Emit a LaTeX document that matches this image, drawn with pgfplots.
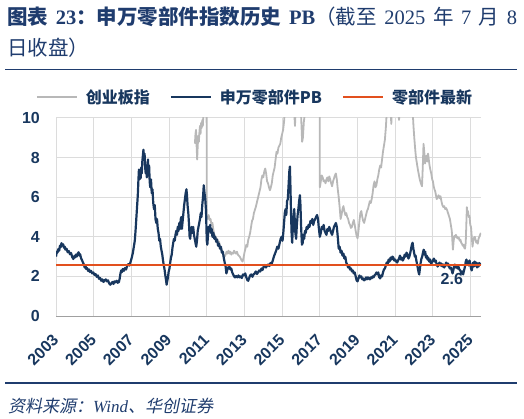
\documentclass[border=0pt]{standalone}
\usepackage{fontspec}
\usepackage{pgfplots}
\usepackage{pgfplotstable}
\pgfplotsset{compat=1.18}
\setmainfont{Liberation Sans}
\newfontfamily\cjk{Noto Sans CJK SC}
\newfontfamily\cjkit[FakeSlant=0.2]{Noto Sans CJK SC}
\newfontfamily\serif{Liberation Serif}
\definecolor{navy}{RGB}{24,55,94}
\definecolor{titleblue}{RGB}{31,60,110}
\definecolor{cygray}{RGB}{184,184,184}
\definecolor{latestred}{RGB}{226,80,30}
\definecolor{gridgray}{RGB}{220,220,220}
\definecolor{axisgray}{RGB}{160,160,160}

\pgfplotstableread{
x y
2003.00 3.00
2003.04 3.25
2003.08 3.20
2003.12 3.38
2003.17 3.30
2003.21 3.55
2003.25 3.48
2003.29 3.68
2003.33 3.55
2003.38 3.62
2003.42 3.45
2003.46 3.50
2003.50 3.35
2003.56 3.40
2003.62 3.22
2003.68 3.28
2003.74 3.12
2003.80 3.18
2003.86 2.98
2003.92 2.88
2003.96 3.02
2004.00 2.95
2004.05 3.10
2004.10 3.00
2004.15 3.15
2004.20 3.22
2004.24 3.05
2004.28 3.12
2004.33 2.92
2004.38 2.82
2004.43 2.70
2004.48 2.60
2004.52 2.45
2004.56 2.55
2004.60 2.38
2004.65 2.42
2004.70 2.28
2004.75 2.35
2004.80 2.22
2004.86 2.28
2004.92 2.15
2004.98 2.20
2005.04 2.08
2005.10 2.12
2005.16 1.98
2005.22 2.05
2005.28 1.88
2005.34 1.92
2005.40 1.78
2005.46 1.85
2005.52 1.72
2005.58 1.80
2005.64 1.85
2005.70 1.75
2005.76 1.80
2005.82 1.65
2005.88 1.58
2005.94 1.65
2006.00 1.72
2006.05 1.62
2006.10 1.75
2006.16 1.70
2006.22 1.78
2006.28 1.68
2006.34 1.72
2006.38 1.90
2006.42 2.15
2006.46 2.30
2006.50 2.22
2006.55 2.38
2006.60 2.28
2006.66 2.42
2006.72 2.35
2006.78 2.55
2006.84 2.62
2006.90 2.55
2006.96 2.75
2007.02 2.95
2007.08 3.20
2007.13 3.50
2007.18 3.80
2007.22 4.30
2007.26 4.90
2007.30 5.50
2007.34 6.10
2007.37 6.80
2007.40 7.40
2007.43 6.90
2007.46 7.30
2007.49 6.95
2007.52 7.50
2007.55 7.20
2007.58 7.80
2007.61 8.10
2007.64 8.40
2007.67 7.90
2007.70 8.20
2007.73 7.50
2007.76 7.20
2007.79 7.60
2007.82 7.00
2007.85 7.40
2007.88 7.90
2007.91 7.20
2007.94 7.60
2007.97 6.80
2008.00 6.50
2008.04 6.90
2008.08 6.20
2008.12 6.40
2008.16 5.70
2008.20 5.40
2008.24 5.60
2008.28 4.90
2008.32 4.70
2008.36 4.90
2008.40 4.40
2008.44 4.20
2008.48 3.80
2008.52 3.90
2008.56 3.50
2008.60 3.30
2008.64 3.10
2008.68 2.80
2008.72 2.55
2008.76 2.35
2008.80 2.05
2008.84 1.80
2008.87 1.58
2008.90 1.75
2008.94 1.95
2008.98 2.25
2009.02 2.40
2009.06 2.70
2009.10 2.95
2009.14 3.10
2009.18 3.45
2009.22 3.70
2009.26 3.90
2009.30 3.80
2009.34 4.10
2009.38 4.30
2009.42 4.10
2009.46 4.50
2009.50 4.30
2009.54 4.70
2009.58 4.40
2009.62 4.90
2009.65 5.00
2009.68 4.40
2009.72 4.80
2009.76 5.20
2009.80 5.60
2009.84 5.90
2009.88 6.20
2009.92 6.40
2009.95 6.10
2009.98 5.60
2010.02 5.20
2010.06 4.60
2010.09 4.00
2010.12 3.90
2010.16 4.30
2010.20 4.50
2010.24 4.20
2010.28 4.50
2010.32 4.10
2010.36 3.90
2010.40 3.70
2010.44 3.50
2010.48 3.80
2010.52 4.30
2010.56 4.50
2010.60 4.70
2010.64 4.90
2010.68 5.20
2010.72 5.00
2010.76 5.60
2010.80 6.00
2010.84 6.60
2010.88 6.20
2010.92 5.90
2010.96 5.30
2011.00 3.80
2011.03 3.60
2011.06 4.00
2011.10 4.50
2011.14 4.30
2011.18 4.60
2011.22 4.20
2011.26 4.40
2011.30 4.00
2011.35 4.20
2011.40 3.90
2011.45 4.00
2011.50 3.75
2011.55 3.85
2011.60 3.55
2011.65 3.65
2011.70 3.40
2011.75 3.50
2011.80 3.20
2011.85 3.25
2011.90 2.95
2011.95 2.70
2012.00 2.50
2012.04 2.15
2012.08 2.30
2012.12 2.45
2012.16 2.40
2012.20 2.50
2012.25 2.35
2012.30 2.40
2012.35 2.20
2012.40 2.10
2012.45 2.00
2012.50 1.95
2012.56 2.02
2012.62 1.95
2012.68 2.05
2012.74 1.95
2012.80 2.00
2012.86 1.92
2012.92 2.10
2012.98 2.05
2013.04 2.15
2013.10 1.95
2013.16 1.80
2013.20 1.78
2013.25 1.92
2013.30 2.05
2013.36 2.10
2013.42 1.98
2013.48 2.10
2013.54 2.15
2013.60 2.25
2013.66 2.12
2013.72 2.20
2013.78 2.30
2013.84 2.25
2013.90 2.40
2013.96 2.32
2014.02 2.50
2014.08 2.58
2014.14 2.45
2014.20 2.55
2014.26 2.60
2014.32 2.52
2014.38 2.68
2014.44 2.62
2014.50 2.80
2014.56 3.00
2014.62 3.15
2014.68 3.30
2014.74 3.50
2014.80 3.40
2014.86 3.65
2014.92 3.90
2014.97 4.00
2015.02 3.80
2015.06 4.20
2015.10 4.70
2015.14 5.20
2015.18 5.40
2015.22 5.10
2015.26 5.80
2015.30 5.90
2015.34 6.60
2015.38 7.30
2015.41 7.55
2015.44 6.50
2015.47 5.20
2015.50 4.20
2015.53 3.70
2015.56 4.30
2015.60 5.00
2015.64 5.40
2015.67 4.80
2015.70 4.20
2015.74 3.90
2015.78 4.60
2015.82 5.10
2015.86 5.40
2015.90 5.80
2015.94 6.10
2015.97 5.60
2016.01 4.40
2016.05 3.60
2016.09 3.70
2016.13 4.10
2016.17 3.90
2016.21 4.30
2016.25 4.20
2016.30 4.50
2016.35 4.40
2016.40 4.60
2016.45 4.50
2016.50 4.80
2016.55 4.70
2016.60 4.90
2016.65 4.60
2016.70 4.80
2016.75 4.90
2016.80 5.00
2016.85 5.10
2016.90 4.90
2016.95 4.40
2017.00 4.00
2017.05 4.20
2017.10 4.50
2017.15 4.40
2017.20 4.60
2017.25 4.30
2017.30 4.20
2017.35 4.10
2017.40 4.40
2017.45 4.30
2017.50 4.50
2017.55 4.35
2017.60 4.20
2017.65 4.10
2017.70 4.30
2017.75 4.50
2017.80 4.60
2017.85 4.70
2017.90 4.50
2017.95 4.00
2018.00 3.40
2018.05 3.50
2018.10 3.20
2018.15 3.30
2018.20 3.05
2018.25 3.15
2018.30 2.90
2018.35 3.00
2018.40 2.70
2018.45 2.60
2018.50 2.45
2018.55 2.55
2018.60 2.35
2018.65 2.40
2018.70 2.25
2018.75 2.30
2018.80 2.15
2018.85 2.20
2018.90 2.00
2018.95 1.80
2019.00 1.75
2019.05 1.90
2019.10 2.05
2019.15 1.95
2019.20 2.00
2019.25 1.85
2019.30 1.90
2019.35 1.80
2019.40 1.85
2019.45 1.95
2019.50 1.85
2019.55 1.95
2019.60 1.90
2019.65 1.85
2019.70 1.95
2019.75 1.90
2019.80 2.00
2019.85 1.95
2019.90 2.05
2019.95 2.10
2020.00 2.20
2020.05 2.10
2020.10 2.20
2020.15 1.95
2020.20 1.90
2020.25 2.05
2020.30 2.00
2020.35 2.20
2020.40 2.35
2020.45 2.40
2020.50 2.55
2020.55 2.70
2020.60 2.65
2020.65 2.85
2020.70 2.75
2020.75 2.95
2020.80 2.85
2020.85 3.00
2020.90 2.95
2020.95 2.80
2021.00 2.85
2021.05 2.75
2021.10 2.70
2021.15 2.80
2021.20 2.90
2021.25 3.05
2021.30 2.85
2021.35 2.95
2021.40 2.80
2021.45 2.90
2021.50 3.10
2021.55 3.00
2021.60 3.20
2021.65 3.10
2021.70 2.90
2021.75 3.00
2021.80 3.20
2021.84 3.40
2021.88 3.60
2021.92 3.70
2021.96 3.40
2022.00 3.20
2022.04 3.00
2022.08 3.05
2022.12 2.80
2022.16 2.60
2022.20 2.40
2022.24 2.20
2022.27 2.10
2022.31 2.40
2022.35 2.70
2022.39 2.90
2022.43 3.00
2022.47 3.20
2022.51 3.35
2022.55 3.10
2022.59 3.25
2022.63 2.95
2022.67 3.05
2022.71 2.85
2022.75 2.95
2022.80 2.75
2022.85 2.85
2022.90 2.65
2022.95 2.70
2023.00 2.80
2023.05 2.90
2023.10 2.75
2023.15 2.80
2023.20 2.60
2023.25 2.50
2023.30 2.60
2023.35 2.70
2023.40 2.55
2023.45 2.65
2023.50 2.50
2023.55 2.60
2023.60 2.45
2023.65 2.55
2023.70 2.70
2023.75 2.55
2023.80 2.65
2023.85 2.50
2023.90 2.40
2023.95 2.45
2024.00 2.30
2024.04 2.15
2024.08 2.30
2024.12 2.50
2024.16 2.60
2024.20 2.45
2024.25 2.55
2024.30 2.40
2024.35 2.50
2024.40 2.35
2024.45 2.30
2024.50 2.15
2024.55 2.25
2024.60 2.10
2024.65 2.30
2024.70 2.50
2024.74 2.75
2024.78 2.85
2024.82 2.60
2024.86 2.75
2024.90 2.55
2024.94 2.80
2024.98 2.65
2025.02 2.40
2025.06 2.30
2025.10 2.55
2025.14 2.70
2025.18 2.50
2025.22 2.75
2025.26 2.55
2025.30 2.70
2025.34 2.45
2025.38 2.65
2025.42 2.50
2025.46 2.68
2025.52 2.58
}\pbdata

\pgfplotstableread{
x y
2010.37 8.70
2010.40 9.20
2010.43 9.40
2010.46 8.60
2010.49 7.90
2010.52 8.60
2010.55 9.10
2010.58 8.80
2010.61 9.30
2010.64 9.60
2010.67 9.20
2010.70 9.75
2010.73 9.50
2010.76 9.90
2010.79 9.60
2010.82 10.20
2010.86 11.00
2010.90 11.50
2010.95 12.00
2010.99 12.00
2011.00 5.00
2011.05 4.90
2011.10 5.10
2011.15 4.85
2011.20 4.90
2011.25 4.60
2011.30 4.70
2011.35 4.35
2011.40 4.10
2011.45 4.05
2011.50 3.85
2011.55 3.90
2011.60 3.65
2011.65 3.75
2011.70 3.50
2011.75 3.40
2011.80 3.30
2011.85 3.15
2011.90 3.05
2011.95 3.00
2012.00 3.10
2012.05 3.25
2012.10 3.15
2012.15 3.30
2012.20 3.15
2012.25 3.25
2012.30 3.10
2012.35 3.20
2012.40 3.15
2012.45 3.30
2012.50 3.20
2012.55 3.15
2012.60 3.25
2012.65 3.10
2012.70 3.05
2012.75 3.00
2012.80 2.90
2012.85 2.80
2012.90 2.75
2012.95 2.95
2013.00 3.20
2013.05 3.40
2013.10 3.60
2013.15 3.50
2013.20 3.85
2013.25 4.00
2013.30 4.20
2013.35 4.50
2013.40 4.80
2013.45 4.90
2013.50 5.20
2013.55 5.35
2013.60 5.50
2013.65 5.70
2013.70 5.90
2013.75 6.10
2013.80 6.30
2013.85 6.50
2013.90 6.90
2013.95 7.10
2014.00 7.00
2014.05 7.30
2014.10 7.45
2014.15 7.20
2014.20 6.80
2014.25 6.70
2014.30 6.50
2014.35 6.35
2014.40 6.50
2014.45 6.70
2014.50 7.10
2014.55 7.30
2014.60 7.50
2014.65 7.90
2014.70 8.30
2014.75 8.20
2014.80 8.50
2014.85 8.60
2014.90 8.70
2014.95 9.00
2015.00 9.20
2015.05 9.40
2015.10 9.80
2015.15 10.50
2015.20 11.50
2015.30 12.00
2015.50 12.00
2015.60 11.00
2015.68 9.60
2015.72 10.50
2015.80 11.50
2015.90 11.00
2016.00 10.20
2016.06 8.80
2016.10 9.00
2016.15 9.80
2016.20 10.20
2016.30 11.00
2016.50 11.20
2016.70 11.00
2016.90 11.50
2016.99 11.50
2017.00 6.50
2017.05 6.80
2017.10 7.10
2017.15 7.00
2017.20 6.80
2017.25 6.85
2017.30 6.70
2017.35 6.90
2017.40 7.00
2017.45 6.80
2017.50 7.05
2017.55 6.90
2017.60 6.70
2017.65 6.55
2017.70 6.80
2017.75 6.95
2017.80 7.10
2017.85 7.20
2017.90 6.90
2017.95 6.40
2018.00 6.00
2018.05 5.50
2018.10 4.90
2018.15 5.10
2018.20 5.40
2018.25 5.55
2018.30 5.30
2018.35 5.10
2018.40 5.20
2018.45 5.00
2018.50 4.90
2018.55 4.70
2018.60 4.60
2018.65 4.45
2018.70 4.50
2018.75 4.70
2018.80 4.85
2018.85 4.60
2018.90 4.30
2018.95 4.05
2019.00 3.92
2019.05 4.30
2019.10 4.80
2019.15 5.20
2019.20 5.30
2019.25 5.00
2019.30 4.80
2019.35 4.70
2019.40 4.90
2019.45 5.10
2019.50 5.30
2019.55 5.40
2019.60 5.60
2019.65 5.80
2019.70 5.70
2019.75 5.90
2019.80 6.20
2019.85 6.60
2019.90 6.80
2019.95 6.50
2020.00 6.60
2020.05 6.90
2020.10 7.10
2020.15 7.40
2020.20 7.60
2020.25 7.50
2020.30 7.90
2020.35 8.30
2020.40 8.60
2020.45 8.90
2020.50 9.50
2020.55 10.30
2020.60 11.00
2020.70 11.50
2020.79 9.70
2020.85 11.00
2020.95 11.50
2021.10 11.00
2021.20 9.90
2021.30 11.00
2021.50 12.00
2021.70 12.00
2021.85 11.00
2021.95 9.90
2021.97 9.55
2022.01 9.00
2022.06 8.40
2022.10 8.00
2022.15 7.70
2022.20 7.40
2022.24 7.20
2022.30 6.90
2022.36 6.70
2022.42 6.55
2022.46 7.50
2022.50 8.70
2022.54 8.30
2022.58 7.70
2022.62 7.90
2022.66 8.10
2022.70 7.80
2022.74 8.20
2022.78 7.90
2022.82 7.60
2022.86 7.40
2022.91 7.20
2022.96 6.90
2023.00 6.80
2023.04 6.55
2023.08 6.40
2023.12 6.30
2023.16 6.10
2023.20 5.90
2023.25 6.00
2023.30 6.10
2023.35 5.95
2023.40 6.05
2023.45 5.80
2023.50 5.60
2023.55 5.50
2023.60 5.55
2023.65 5.40
2023.70 5.45
2023.75 5.35
2023.80 5.20
2023.85 5.05
2023.90 4.90
2023.95 4.60
2024.00 4.30
2024.03 3.80
2024.06 3.35
2024.10 3.80
2024.14 4.05
2024.18 4.00
2024.22 4.10
2024.26 3.95
2024.30 4.00
2024.34 3.90
2024.38 3.95
2024.42 3.80
2024.46 3.85
2024.50 3.70
2024.54 3.65
2024.58 3.55
2024.62 3.60
2024.66 3.45
2024.70 3.40
2024.74 3.70
2024.77 4.60
2024.80 5.50
2024.83 5.10
2024.86 5.30
2024.90 5.00
2024.94 5.05
2024.98 4.60
2025.02 4.50
2025.06 4.00
2025.10 3.50
2025.14 3.80
2025.18 3.95
2025.22 4.00
2025.26 3.85
2025.30 3.70
2025.34 3.80
2025.38 3.65
2025.42 3.90
2025.46 4.00
2025.50 4.10
2025.54 4.20
}\cydata

\begin{document}
\begin{tikzpicture}
\path[use as bounding box] (0pt,0pt) rectangle (524pt,418pt);
% title
\node[anchor=base west, inner sep=0pt, text=titleblue] at (7pt,393pt)
  {\fontsize{20.5}{24}\selectfont\makebox[510pt][s]{\cjk\bfseries 图表 {\serif\bfseries 23}：申万零部件指数历史 {\serif\bfseries PB}\mdseries（截至 {\serif 2025} 年 {\serif 7} 月 {\serif 8}}};
\node[anchor=base west, inner sep=0pt, text=titleblue] at (7pt,362pt)
  {\fontsize{20.5}{24}\selectfont\cjk 日收盘）};
\draw[titleblue, line width=1.6pt] (5pt,348.5pt) -- (517pt,348.5pt);
\draw[titleblue, line width=1.6pt] (5pt,35pt) -- (517pt,35pt);
\node[anchor=base west, inner sep=0pt, text=titleblue] at (8pt,6pt)
  {\fontsize{17}{20}\selectfont\cjkit 资料来源：{\serif\itshape Wind}、华创证券};

\begin{axis}[
  at={(56pt,102pt)}, anchor=south west,
  scale only axis, width=425pt, height=198pt,
  xmin=2003, xmax=2025.55, ymin=0, ymax=10,
  xtick={2003,2005,...,2025}, ytick={0,2,...,10},
  /pgf/number format/1000 sep={},
  /pgf/number format/assume math mode=true,
  axis lines*=left,
  x axis line style={axisgray, line width=1pt},
  y axis line style={gridgray, line width=1pt},
  major tick length=0pt,
  grid=major,
  major grid style={gridgray, line width=1pt},
  tick label style={font=\fontsize{16}{19}\selectfont\bfseries, text=navy},
  yticklabel style={anchor=east, inner sep=0pt, xshift=-16pt},
  xticklabel style={xshift=-4.5pt, yshift=-17pt, rotate=45, anchor=north east, inner sep=0pt},
  legend columns=3,
  legend style={draw=none, fill=none, at={(0.466,1.106)}, anchor=center,
    font=\fontsize{16}{19}\selectfont\cjk\bfseries, text=navy,
    nodes={inner sep=0pt},
    /tikz/every odd column/.append style={column sep=8pt},
    /tikz/every even column/.append style={column sep=20pt}},
  legend image code/.code={\draw[#1] (0pt,0pt) -- (40pt,0pt);},
  every axis plot/.append style={line join=round},
]
\addplot[cygray, line width=1.8pt] table[x=x,y=y] {\cydata};
\addlegendentry{创业板指}
\addplot[navy, line width=2.2pt] table[x=x,y=y] {\pbdata};
\addlegendentry{申万零部件PB}
\addplot[latestred, line width=2pt] coordinates {(2003,2.6) (2025.55,2.6)};
\addlegendentry{零部件最新}
\node[text=navy, font=\fontsize{16}{19}\selectfont\bfseries, inner sep=0pt] at (axis cs:2024.0,1.85) {2.6};
\end{axis}
\end{tikzpicture}
\end{document}
